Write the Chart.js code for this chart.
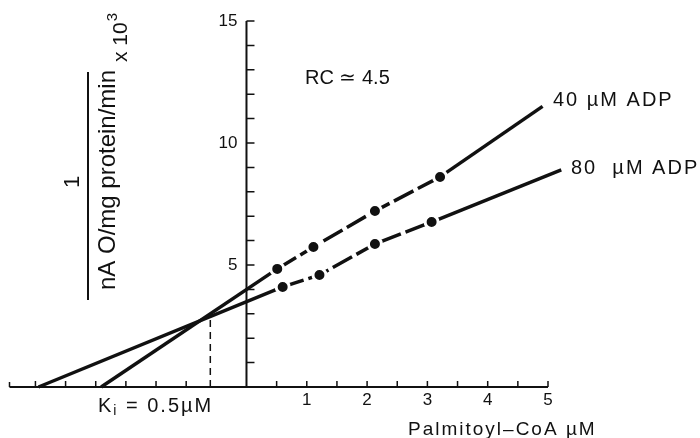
<!DOCTYPE html>
<html lang="en">
<head>
<meta charset="UTF-8">
<title>Dixon plot</title>
<script src="https://cdn.jsdelivr.net/npm/chart.js"></script>
<style>
  body { margin: 0; background: #fff; }
  #wrap { width: 700px; height: 438px; }
</style>
</head>
<body>
<div id="wrap"><canvas id="chart"></canvas></div>
<script>
// axis ranges and tick labels
const xMin = -3.93, xMax = 5, yMin = 0, yMax = 15;
const xTickLabels = [1, 2, 3, 4, 5];
const yTickLabels = [5, 10, 15];

// measured points (Palmitoyl-CoA uM, 1/rate x 10^3)
const adp40X = [0.51, 1.11, 2.13, 3.21];
const adp40Y = [4.84, 5.74, 7.21, 8.61];
const adp80X = [0.60, 1.21, 2.13, 3.07];
const adp80Y = [4.10, 4.59, 5.86, 6.76];

// line ends: x-axis intercept and right end
const fit40X = [-2.41, 4.91];
const fit40Y = [0, 11.5];
const fit80X = [-3.45, 5.22];
const fit80Y = [0, 8.9];

// intersection (Ki)
const kiX = -0.6, kiY = 2.87;

function pts(xs, ys) { return xs.map((x, i) => ({ x: x, y: ys[i] })); }
function linePts(fx, fy, xs, ys) {
  return [{ x: fx[0], y: fy[0] }].concat(pts(xs, ys), [{ x: fx[1], y: fy[1] }]);
}

const FONT = '"Liberation Sans", Arial, sans-serif';

const axesPlugin = {
  id: 'axes',
  beforeDatasetsDraw(chart) {
    const c = chart.ctx, xs = chart.scales.x, ys = chart.scales.y;
    const x0 = xs.getPixelForValue(0), y0 = ys.getPixelForValue(0);
    c.save();
    c.strokeStyle = '#111';
    c.lineWidth = 2;
    c.beginPath();
    c.moveTo(xs.getPixelForValue(xMin), y0);
    c.lineTo(xs.getPixelForValue(xMax), y0);
    c.moveTo(x0, y0);
    c.lineTo(x0, ys.getPixelForValue(yMax));
    c.stroke();
    // x ticks every 0.5 (upwards)
    c.lineWidth = 1.5;
    c.beginPath();
    for (let v = -3.5; v <= xMax + 0.001; v += 0.5) {
      if (v > -0.9 && v < 0.1) continue;
      const px = xs.getPixelForValue(v);
      c.moveTo(px, y0);
      c.lineTo(px, y0 - 6);
    }
    c.moveTo(xs.getPixelForValue(xMin), y0);
    c.lineTo(xs.getPixelForValue(xMin), y0 - 5);
    // y ticks every 1 (to the right)
    for (let v = 1; v <= yMax; v++) {
      const py = ys.getPixelForValue(v);
      c.moveTo(x0, py);
      c.lineTo(x0 + 8, py);
    }
    c.stroke();
    // dashed Ki line
    c.setLineDash([7, 5]);
    c.lineWidth = 1.5;
    c.beginPath();
    c.moveTo(xs.getPixelForValue(kiX), y0);
    c.lineTo(xs.getPixelForValue(kiX), ys.getPixelForValue(kiY));
    c.stroke();
    c.restore();
  },
  afterDraw(chart) {
    const c = chart.ctx, xs = chart.scales.x, ys = chart.scales.y;
    const x0 = xs.getPixelForValue(0), y0 = ys.getPixelForValue(0);
    c.save();
    c.fillStyle = '#111';
    c.font = '17px ' + FONT;
    c.textBaseline = 'middle';
    c.textAlign = 'center';
    xTickLabels.forEach(v => c.fillText(String(v), xs.getPixelForValue(v), y0 + 13));
    c.textAlign = 'right';
    yTickLabels.forEach(v => c.fillText(String(v), x0 - 9, ys.getPixelForValue(v)));

    c.textAlign = 'left';
    c.font = '20px ' + FONT;
    c.fillText('RC \u2243 4.5', 305, 78);
    c.letterSpacing = '2px';
    c.fillText('40 \u00b5M ADP', 553, 100);
    c.fillText('80  \u00b5M ADP', 571, 168);
    c.font = '19px ' + FONT;
    c.fillText('Palmitoyl\u2013CoA \u00b5M', 408, 430);

    // K_i = 0.5 uM
    c.letterSpacing = '2px';
    let kx = 98;
    c.font = '20px ' + FONT;
    c.fillText('K', kx, 406);
    kx += c.measureText('K').width;
    c.font = '14px ' + FONT;
    c.fillText('i', kx, 411);
    kx += c.measureText('i').width;
    c.font = '20px ' + FONT;
    c.fillText(' = 0.5\u00b5M', kx, 406);
    c.letterSpacing = '0px';

    // y title: fraction rotated
    c.strokeStyle = '#111';
    c.lineWidth = 2;
    c.beginPath();
    c.moveTo(88, 72);
    c.lineTo(88, 300);
    c.stroke();
    c.save();
    c.translate(73, 182);
    c.rotate(-Math.PI / 2);
    c.textAlign = 'center';
    c.font = '22px ' + FONT;
    c.fillText('1', 0, 0);
    c.restore();
    c.save();
    c.translate(108, 180);
    c.rotate(-Math.PI / 2);
    c.textAlign = 'center';
    c.font = '24px ' + FONT;
    c.fillText('nA O/mg protein/min', 0, 0);
    c.restore();
    c.save();
    c.translate(121, 62);
    c.rotate(-Math.PI / 2);
    c.textAlign = 'left';
    c.font = '21px ' + FONT;
    c.fillText('x 10', 0, 0);
    const w = c.measureText('x 10').width;
    c.font = '15px ' + FONT;
    c.fillText('3', w + 1, -8);
    c.restore();
    c.restore();
  }
};

const dashSeg = { borderDash: ctx => (ctx.p0DataIndex >= 1 && ctx.p0DataIndex <= 3) ? [22, 5] : undefined };

new Chart(document.getElementById('chart'), {
  type: 'scatter',
  data: {
    datasets: [
      { label: '40 uM ADP points', data: pts(adp40X, adp40Y), showLine: false,
        pointRadius: 6.5, pointBackgroundColor: '#111', pointBorderColor: '#fff', pointBorderWidth: 3, order: 0 },
      { label: '80 uM ADP points', data: pts(adp80X, adp80Y), showLine: false,
        pointRadius: 6.5, pointBackgroundColor: '#111', pointBorderColor: '#fff', pointBorderWidth: 3, order: 0 },
      { label: '40 uM ADP', data: linePts(fit40X, fit40Y, adp40X, adp40Y), showLine: true,
        borderColor: '#111', borderWidth: 3.5, pointRadius: 0, segment: dashSeg, clip: false, order: 1 },
      { label: '80 uM ADP', data: linePts(fit80X, fit80Y, adp80X, adp80Y), showLine: true,
        borderColor: '#111', borderWidth: 3.5, pointRadius: 0, segment: dashSeg, clip: false, order: 1 }
    ]
  },
  options: {
    responsive: true,
    maintainAspectRatio: false,
    animation: false,
    layout: { padding: { left: 8, right: 152, top: 21, bottom: 51 } },
    plugins: { legend: { display: false }, tooltip: { enabled: false } },
    scales: {
      x: { type: 'linear', min: xMin, max: xMax, display: false },
      y: { type: 'linear', min: yMin, max: yMax, display: false }
    }
  },
  plugins: [axesPlugin]
});
</script>
</body>
</html>
